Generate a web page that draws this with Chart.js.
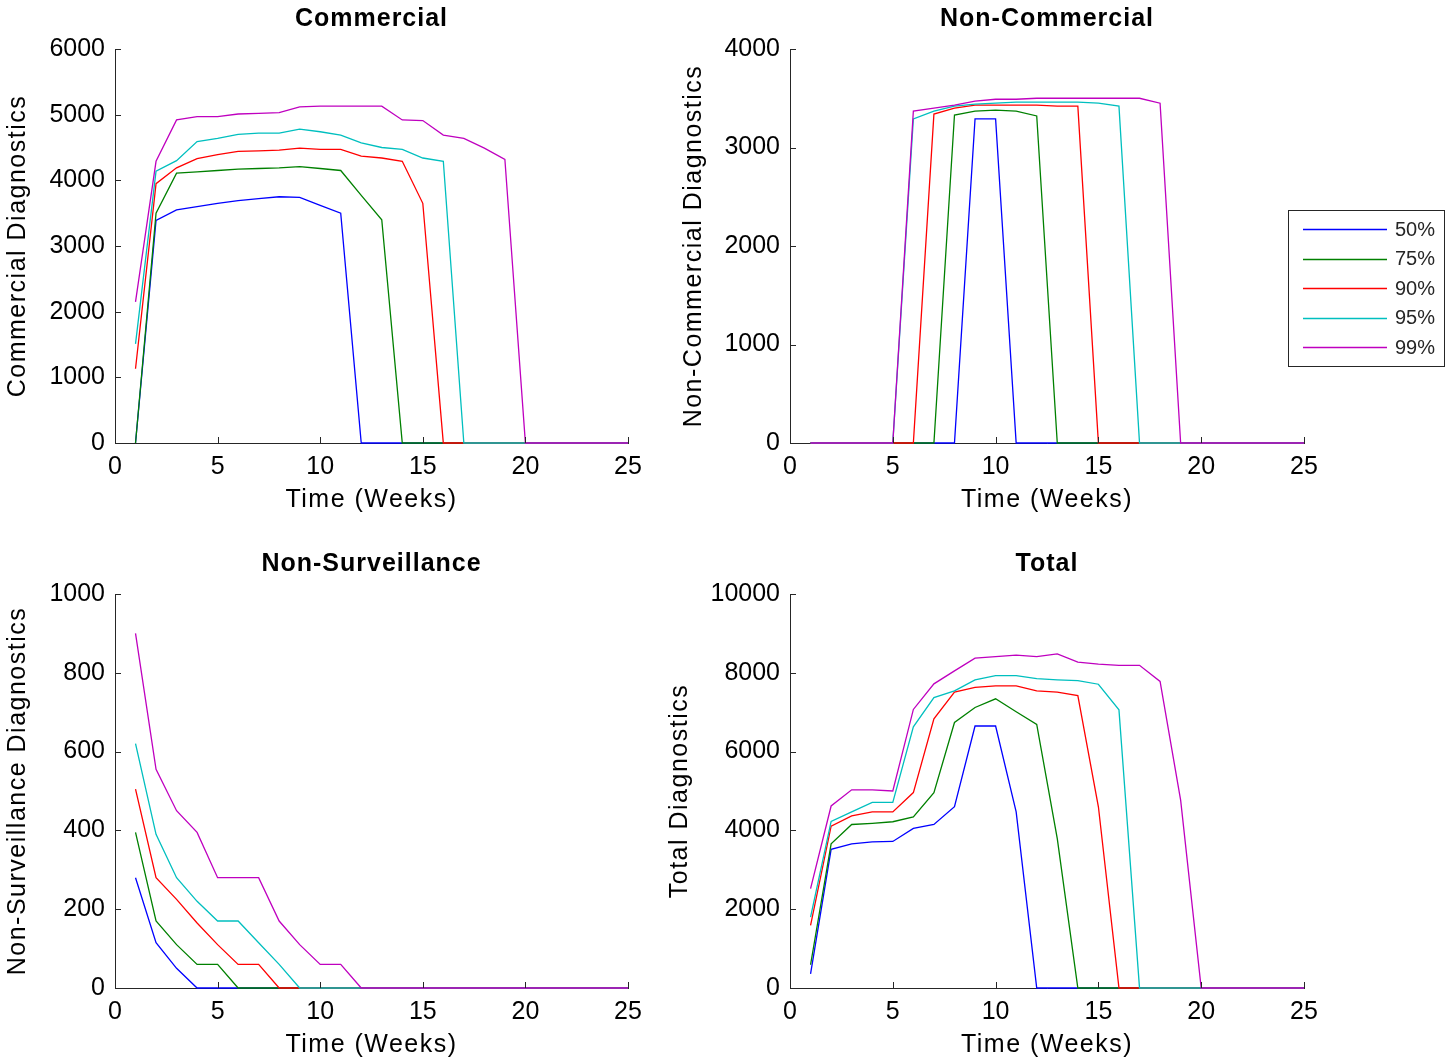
<!DOCTYPE html>
<html>
<head>
<meta charset="utf-8">
<title>Diagnostics by week</title>
<script src="https://cdn.jsdelivr.net/npm/chart.js@4.4.1/dist/chart.umd.min.js"></script>
<style>
  body { margin: 0; background: #fff; }
  #wrap { position: relative; width: 1446px; height: 1063px; overflow: hidden; }
  #wrap canvas { position: absolute; }
</style>
</head>
<body>
<div id="wrap">
  <canvas id="commercial" width="680" height="518" style="left:0;top:0"></canvas>
  <canvas id="noncommercial" width="786" height="518" style="left:660px;top:0"></canvas>
  <canvas id="nonsurv" width="680" height="518" style="left:0;top:545px"></canvas>
  <canvas id="total" width="786" height="518" style="left:660px;top:545px"></canvas>
</div>
<script>
// weeks on the x axis
const weeks = [1, 2, 3, 4, 5, 6, 7, 8, 9, 10, 11, 12, 13, 14, 15, 16, 17, 18, 19, 20, 21, 22, 23, 24, 25];
const levels = ["50%", "75%", "90%", "95%", "99%"];
const colors = ["#0000ff", "#008000", "#ff0000", "#00bfbf", "#bf00bf"];

// Commercial
const com50 = [0, 3390, 3550, 3600, 3650, 3690, 3720, 3750, 3740, 3620, 3500, 0, 0, 0, 0, 0, 0, 0, 0, 0, 0, 0, 0, 0, 0];
const com75 = [0, 3500, 4110, 4130, 4150, 4170, 4180, 4190, 4210, 4180, 4150, 3770, 3400, 0, 0, 0, 0, 0, 0, 0, 0, 0, 0, 0, 0];
const com90 = [1130, 3950, 4190, 4330, 4390, 4440, 4450, 4460, 4490, 4470, 4470, 4370, 4340, 4290, 3650, 0, 0, 0, 0, 0, 0, 0, 0, 0, 0];
const com95 = [1510, 4140, 4300, 4590, 4640, 4700, 4720, 4720, 4780, 4740, 4690, 4570, 4500, 4470, 4340, 4290, 0, 0, 0, 0, 0, 0, 0, 0, 0];
const com99 = [2150, 4290, 4920, 4970, 4970, 5010, 5020, 5030, 5120, 5130, 5130, 5130, 5130, 4920, 4910, 4690, 4640, 4490, 4320, 0, 0, 0, 0, 0, 0];

// Non-Commercial
const nc50 = [0, 0, 0, 0, 0, 0, 0, 0, 3290, 3290, 0, 0, 0, 0, 0, 0, 0, 0, 0, 0, 0, 0, 0, 0, 0];
const nc75 = [0, 0, 0, 0, 0, 0, 0, 3330, 3370, 3380, 3370, 3320, 0, 0, 0, 0, 0, 0, 0, 0, 0, 0, 0, 0, 0];
const nc90 = [0, 0, 0, 0, 0, 0, 3340, 3400, 3430, 3430, 3430, 3430, 3420, 3420, 0, 0, 0, 0, 0, 0, 0, 0, 0, 0, 0];
const nc95 = [0, 0, 0, 0, 0, 3290, 3370, 3420, 3440, 3450, 3460, 3460, 3460, 3460, 3450, 3420, 0, 0, 0, 0, 0, 0, 0, 0, 0];
const nc99 = [0, 0, 0, 0, 0, 3370, 3400, 3430, 3470, 3490, 3490, 3500, 3500, 3500, 3500, 3500, 3500, 3450, 0, 0, 0, 0, 0, 0, 0];

// Non-Surveillance
const ns50 = [280, 115, 50, 0, 0, 0, 0, 0, 0, 0, 0, 0, 0, 0, 0, 0, 0, 0, 0, 0, 0, 0, 0, 0, 0];
const ns75 = [395, 170, 110, 60, 60, 0, 0, 0, 0, 0, 0, 0, 0, 0, 0, 0, 0, 0, 0, 0, 0, 0, 0, 0, 0];
const ns90 = [505, 280, 225, 165, 110, 60, 60, 0, 0, 0, 0, 0, 0, 0, 0, 0, 0, 0, 0, 0, 0, 0, 0, 0, 0];
const ns95 = [620, 390, 280, 220, 170, 170, 115, 60, 0, 0, 0, 0, 0, 0, 0, 0, 0, 0, 0, 0, 0, 0, 0, 0, 0];
const ns99 = [900, 555, 450, 395, 280, 280, 280, 170, 110, 60, 60, 0, 0, 0, 0, 0, 0, 0, 0, 0, 0, 0, 0, 0, 0];

// Total
const tot50 = [360, 3520, 3660, 3710, 3720, 4050, 4150, 4600, 6650, 6650, 4470, 0, 0, 0, 0, 0, 0, 0, 0, 0, 0, 0, 0, 0, 0];
const tot75 = [590, 3660, 4150, 4180, 4220, 4340, 4960, 6740, 7120, 7340, 7010, 6690, 3790, 0, 0, 0, 0, 0, 0, 0, 0, 0, 0, 0, 0];
const tot90 = [1590, 4110, 4370, 4470, 4470, 4960, 6830, 7510, 7630, 7670, 7670, 7540, 7510, 7420, 4600, 0, 0, 0, 0, 0, 0, 0, 0, 0, 0];
const tot95 = [1800, 4230, 4470, 4710, 4710, 6630, 7370, 7540, 7820, 7930, 7930, 7850, 7820, 7800, 7710, 7060, 0, 0, 0, 0, 0, 0, 0, 0, 0];
const tot99 = [2520, 4620, 5030, 5030, 5000, 7070, 7720, 8050, 8370, 8410, 8450, 8410, 8480, 8270, 8220, 8190, 8190, 7780, 4770, 0, 0, 0, 0, 0, 0];

const xTicks = [0, 5, 10, 15, 20, 25];
const xLabel = "Time (Weeks)";

const FONT = "Arial, 'Liberation Sans', Helvetica, sans-serif";

// MATLAB style: ticks point into the plot, titles drawn with a bit of letter spacing
const matlabPlugin = {
  id: "matlab",
  afterDatasetsDraw(chart) {
    const { ctx, chartArea, scales } = chart;
    const opts = chart.options.plugins.matlab;
    ctx.save();
    ctx.strokeStyle = "#262626";
    ctx.lineWidth = 1;
    ctx.beginPath();
    scales.x.ticks.forEach(t => {
      const px = Math.round(scales.x.getPixelForValue(t.value)) + 0.5;
      ctx.moveTo(px, chartArea.bottom);
      ctx.lineTo(px, chartArea.bottom - 6);
    });
    scales.y.ticks.forEach(t => {
      const py = Math.round(scales.y.getPixelForValue(t.value)) + 0.5;
      ctx.moveTo(chartArea.left, py);
      ctx.lineTo(chartArea.left + 6, py);
    });
    ctx.stroke();

    const midX = (chartArea.left + chartArea.right) / 2;
    const midY = (chartArea.top + chartArea.bottom) / 2;
    ctx.fillStyle = "#000";
    ctx.textAlign = "center";
    ctx.textBaseline = "middle";

    ctx.font = "bold 25px " + FONT;
    ctx.letterSpacing = "1px";
    ctx.fillText(opts.title, midX, 19);

    ctx.font = "25px " + FONT;
    ctx.letterSpacing = "1.5px";
    ctx.fillText(xLabel, midX, chartArea.bottom + 57);

    ctx.translate(opts.yTitleX, midY);
    ctx.rotate(-Math.PI / 2);
    ctx.fillText(opts.yLabel, 0, 0);
    ctx.restore();
  }
};

// legend box drawn beside the Non-Commercial plot
const legendPlugin = {
  id: "sideLegend",
  afterDraw(chart) {
    if (!chart.options.plugins.sideLegend) return;
    const { ctx } = chart;
    const bx = 628, by = 210, bw = 156, bh = 156;
    ctx.save();
    ctx.fillStyle = "#fff";
    ctx.fillRect(bx, by, bw, bh);
    ctx.strokeStyle = "#262626";
    ctx.lineWidth = 1;
    ctx.strokeRect(bx + 0.5, by + 0.5, bw, bh);
    ctx.font = "20px " + FONT;
    ctx.textAlign = "left";
    ctx.textBaseline = "middle";
    levels.forEach((lab, i) => {
      const y = by + 19 + i * 29.5;
      ctx.strokeStyle = colors[i];
      ctx.lineWidth = 1.3;
      ctx.beginPath();
      ctx.moveTo(bx + 15, Math.round(y) + 0.5);
      ctx.lineTo(bx + 99, Math.round(y) + 0.5);
      ctx.stroke();
      ctx.fillStyle = "#262626";
      ctx.fillText(lab, bx + 107, y + 1);
    });
    ctx.restore();
  }
};

function makePlot(id, title, yLabel, series, yMax, yStep, yAxisWidth, yTitleX, padRight, withLegend) {
  const datasets = series.map((vals, i) => ({
    label: levels[i],
    data: weeks.map((w, k) => ({ x: w, y: vals[k] })),
    borderColor: colors[i],
    backgroundColor: colors[i],
    borderWidth: 1.3,
    pointRadius: 0,
    tension: 0,
    clip: false,
    order: series.length - i
  }));

  new Chart(document.getElementById(id), {
    type: "line",
    data: { datasets },
    plugins: [matlabPlugin, legendPlugin],
    options: {
      responsive: false,
      animation: false,
      devicePixelRatio: 1,
      layout: { padding: { left: 0, top: 49, right: padRight, bottom: 0 } },
      plugins: {
        legend: { display: false },
        tooltip: { enabled: false },
        matlab: { title, yLabel, yTitleX },
        sideLegend: withLegend
      },
      scales: {
        x: {
          type: "linear",
          min: 0,
          max: 25,
          afterBuildTicks: s => { s.ticks = xTicks.map(v => ({ value: v })); },
          afterFit: s => { s.height = 75; },
          grid: { display: false, drawTicks: false },
          border: { display: true, color: "#262626", width: 1 },
          ticks: { padding: 9, color: "#000", font: { family: FONT, size: 25 }, maxRotation: 0 }
        },
        y: {
          min: 0,
          max: yMax,
          afterFit: s => { s.width = yAxisWidth; },
          grid: { display: false, drawTicks: false },
          border: { display: true, color: "#262626", width: 1 },
          ticks: { stepSize: yStep, padding: 10, color: "#000", font: { family: FONT, size: 25 }, callback: v => String(v) }
        }
      }
    }
  });
}

makePlot("commercial", "Commercial", "Commercial Diagnostics",
  [com50, com75, com90, com95, com99], 6000, 1000, 115, 18, 52, false);
makePlot("noncommercial", "Non-Commercial", "Non-Commercial Diagnostics",
  [nc50, nc75, nc90, nc95, nc99], 4000, 1000, 130, 34, 142, true);
makePlot("nonsurv", "Non-Surveillance", "Non-Surveillance Diagnostics",
  [ns50, ns75, ns90, ns95, ns99], 1000, 200, 115, 18, 52, false);
makePlot("total", "Total", "Total Diagnostics",
  [tot50, tot75, tot90, tot95, tot99], 10000, 2000, 130, 20, 142, false);
</script>
</body>
</html>
